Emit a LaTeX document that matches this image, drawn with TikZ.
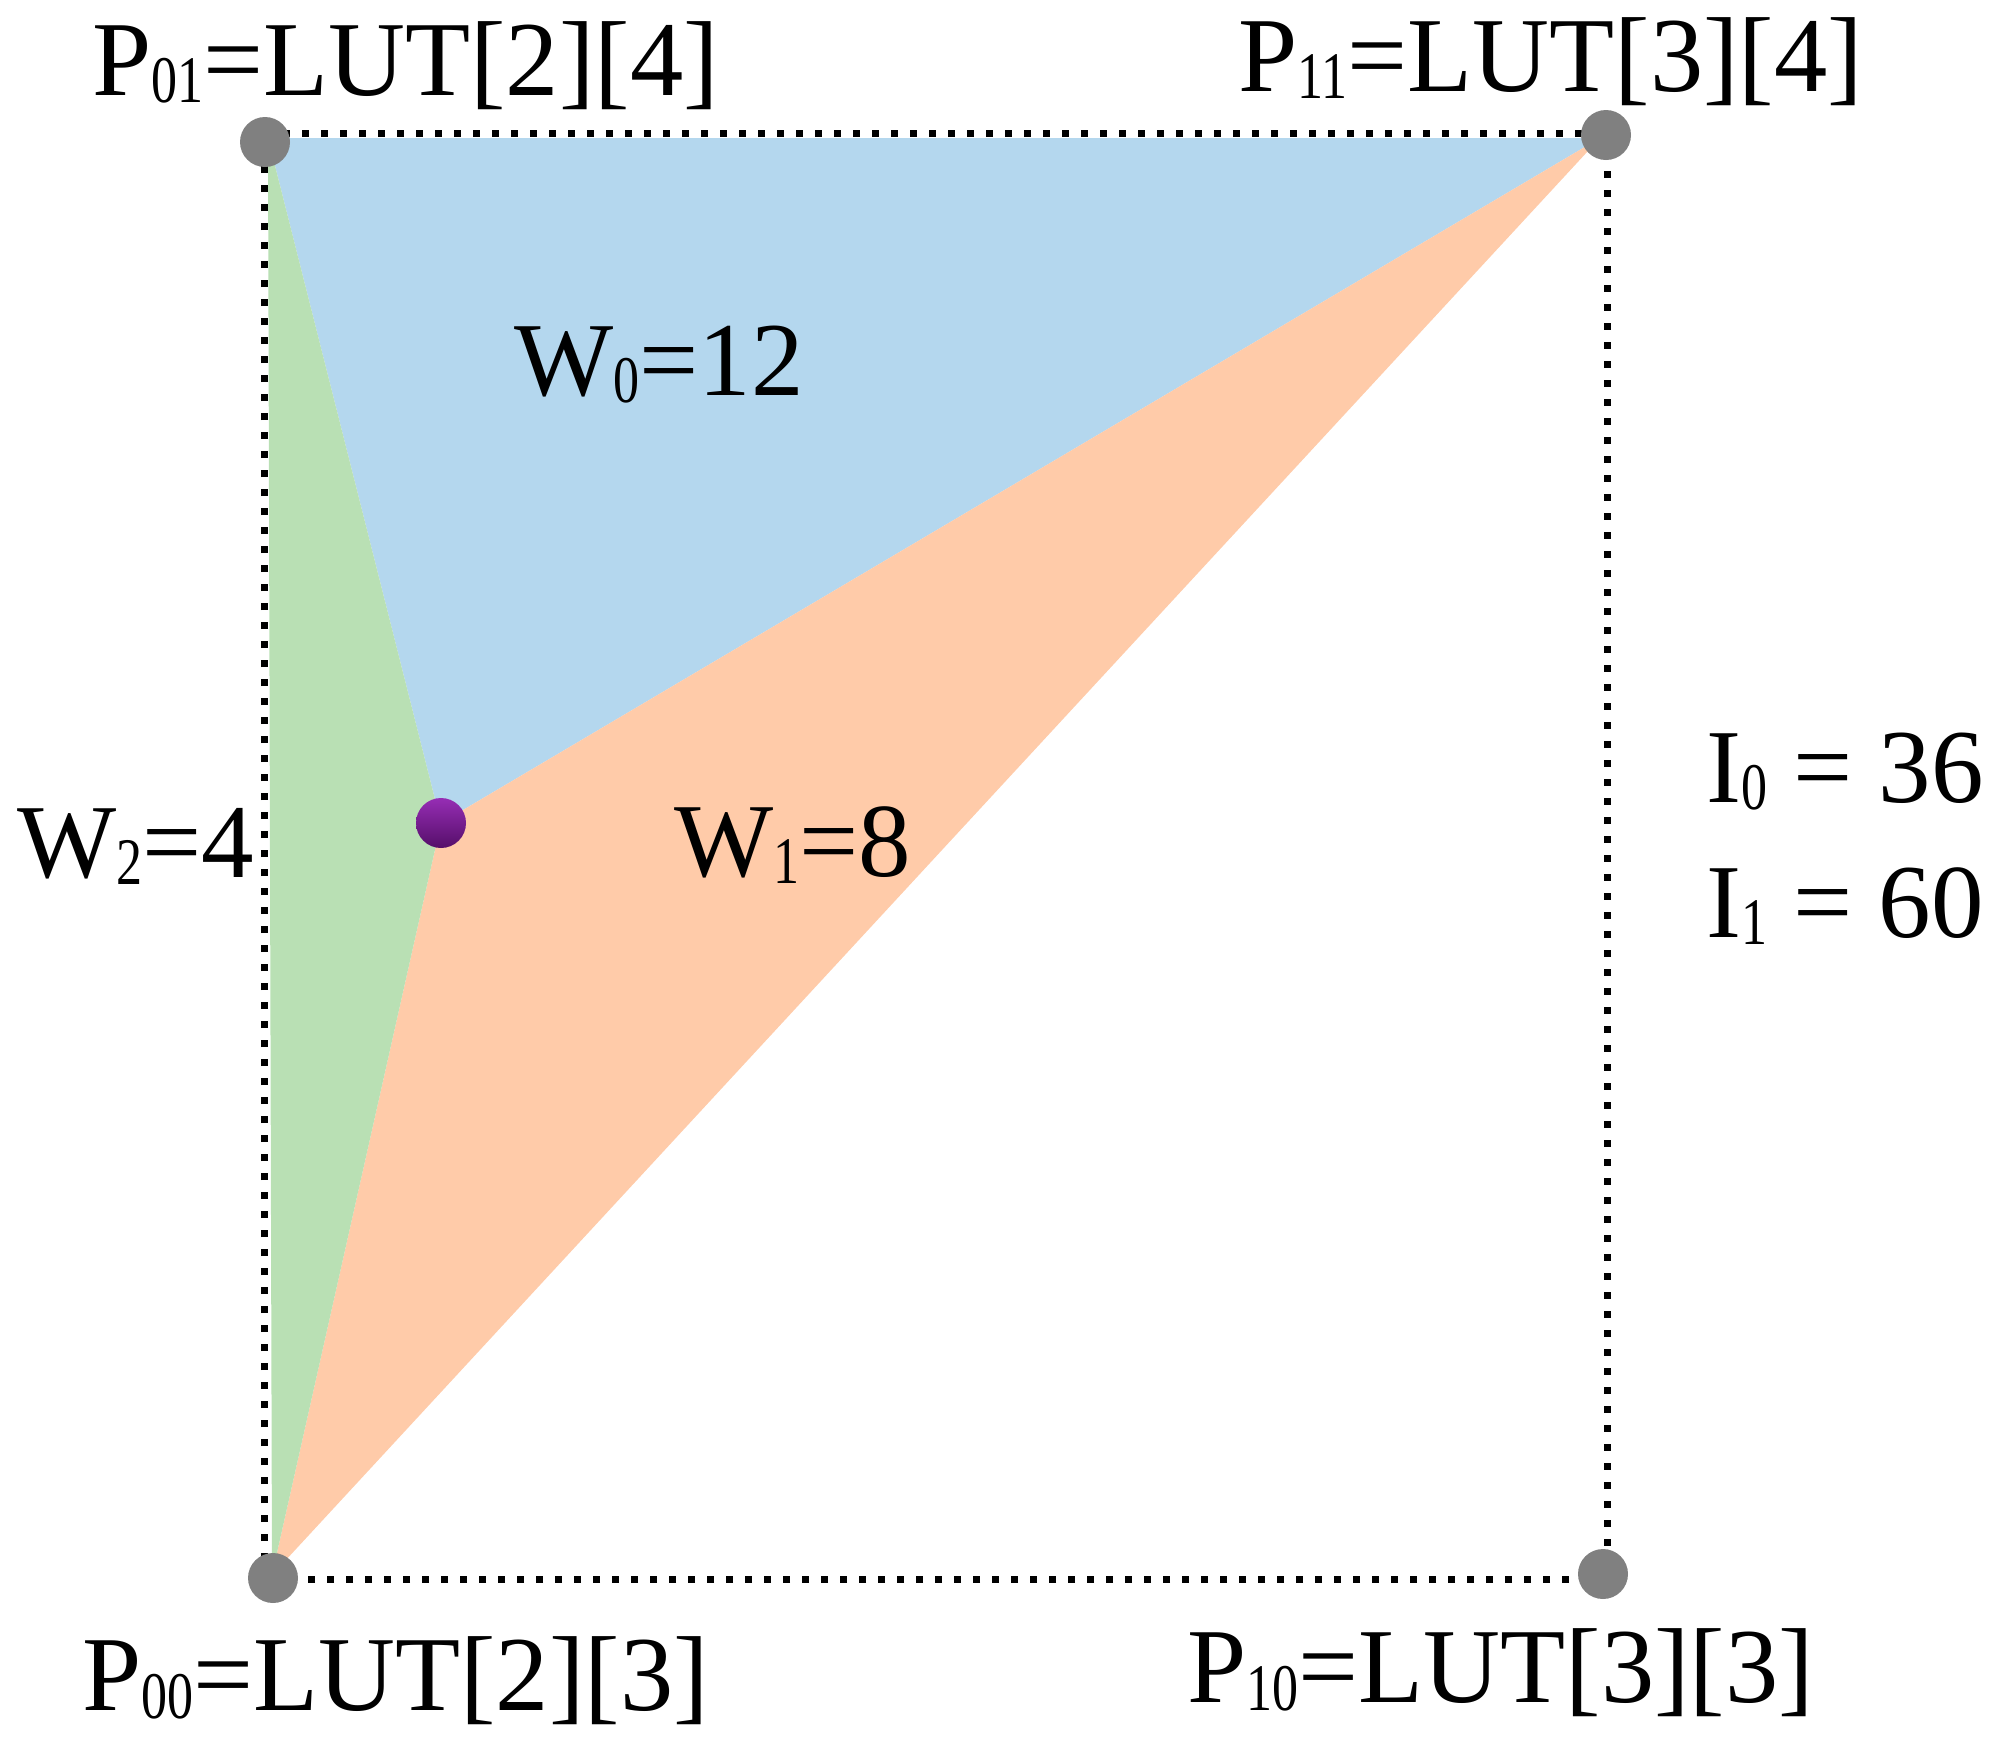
\documentclass[tikz,border=0pt]{standalone}
\usepackage{fontspec}
\usepackage{graphicx}
\setmainfont{Liberation Serif}
\definecolor{fillblue}{RGB}{180,215,238}
\definecolor{fillpeach}{RGB}{255,203,169}
\definecolor{fillgreen}{RGB}{185,224,180}
\definecolor{dotgray}{RGB}{128,128,128}
\definecolor{purpletop}{RGB}{150,45,180}
\definecolor{purplebot}{RGB}{85,15,105}
\newcommand\wsb[1]{\raisebox{-0.075em}{\scalebox{1}[1.28]{\fontsize{52}{52}\selectfont #1}}}
\newcommand\plab[3]{P\wsb{#1}=LUT[#2][#3]}
\tikzset{
  gdot/.style={circle, fill=dotgray, inner sep=0pt, minimum size=50pt},
  pdot/.style={circle, inner sep=0pt, minimum size=50pt, top color=purpletop, bottom color=purplebot},
  grid line/.style={line width=7pt, dash pattern=on 7pt off 12pt, line cap=butt},
  lbl/.style={anchor=base west, inner sep=0pt, font=\fontsize{105}{105}\selectfont},
  plbl/.style={anchor=base west, inner sep=0pt, font=\fontsize{106.5}{106.5}\selectfont}
}
\begin{document}
\begin{tikzpicture}[x=1pt, y=-1pt]
\useasboundingbox (0,0) rectangle (1995,1749);
% corner coordinates of the dotted square
\coordinate (c01) at (264,133);
\coordinate (c11) at (1607,133);
\coordinate (c00) at (264,1579);
\coordinate (c10) at (1607,1579);
% triangle vertices
\coordinate (t01) at (268,138);
\coordinate (t11) at (1600,138);
\coordinate (t00) at (272,1575);
\coordinate (tp) at (441,823);
% fills
\fill[fillblue] (t01) -- (t11) -- (tp) -- cycle;
\fill[fillpeach] (t11) -- (tp) -- (t00) -- cycle;
\fill[fillgreen] (t01) -- (tp) -- (t00) -- cycle;
% dotted square
\draw[grid line] (c01) -- (c11);
\draw[grid line] (c11) -- (c10);
\draw[grid line] (c10) -- (c00);
\draw[grid line] (c00) -- (c01);
% dots
\node[gdot] (p01) at (265,142) {};
\node[gdot] (p11) at (1606,135) {};
\node[gdot] (p00) at (273,1578) {};
\node[gdot] (p10) at (1603,1574) {};
\node[pdot] (pp) at (441,823) {};
% labels
\node[plbl] (l01) at (92,95) {\plab{01}{2}{4}};
\node[plbl] (l11) at (1238,91) {\plab{11}{3}{4}};
\node[plbl] (l00) at (82,1710) {\plab{00}{2}{3}};
\node[plbl] (l10) at (1187,1702) {\plab{10}{3}{3}};
\node[lbl] (w0) at (514,395) {W\wsb{0}=12};
\node[lbl] (w1) at (674,876) {W\wsb{1}=8};
\node[lbl] (w2) at (17,877) {W\wsb{2}=4};
\node[lbl] (i0) at (1706,802) {I\wsb{0} = 36};
\node[lbl] (i1) at (1706,937) {I\wsb{1} = 60};
\end{tikzpicture}
\end{document}
